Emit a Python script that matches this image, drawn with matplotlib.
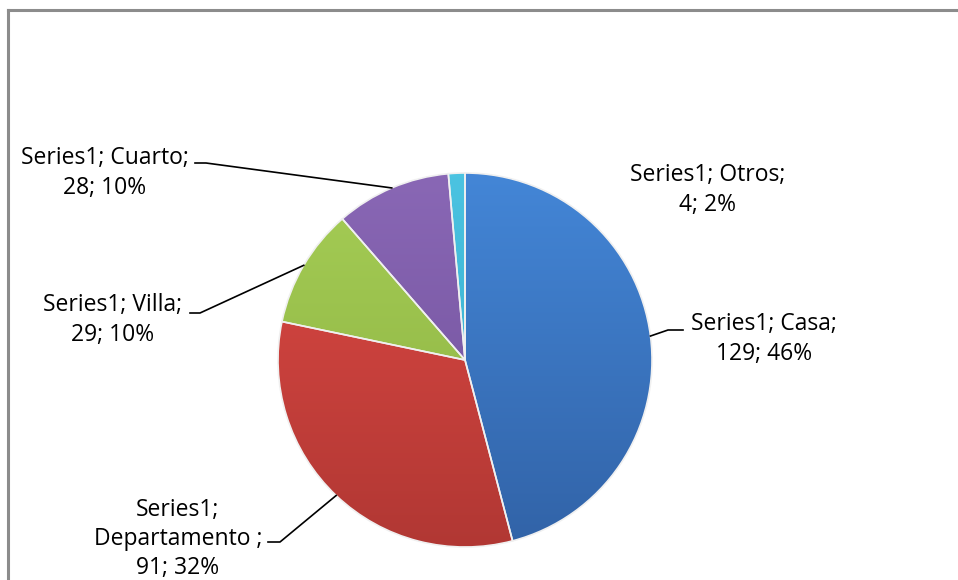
import numpy as np
import matplotlib.pyplot as plt
from matplotlib.colors import to_rgb
from matplotlib.lines import Line2D

# datos del grafico
categorias = ["Casa", "Departamento ", "Villa", "Cuarto", "Otros"]
valores = [129, 91, 29, 28, 4]
porcentajes = ["46%", "32%", "10%", "10%", "2%"]
serie = "Series1"

# colores: (arriba, abajo) para el degradado
colores = [("#4487D8", "#3162A6"),
           ("#E04A45", "#B03733"),
           ("#A6CE56", "#8AAF40"),
           ("#8A68B6", "#6E4E98"),
           ("#4CC4E2", "#2EA6C6")]

W, H = 958, 580
fig = plt.figure(figsize=(W / 100, H / 100), dpi=100)
ax = fig.add_axes([0, 0, 1, 1])

cx, cy, r = 465, H - 360, 187
explode = [0.027, 0, 0, 0, 0]

wedges, _ = ax.pie(valores, startangle=90, counterclock=False, radius=r,
                   center=(cx, cy), explode=explode, frame=True,
                   wedgeprops=dict(linewidth=1.2, edgecolor="#f0f0f0"))
ax.set_xlim(0, W)
ax.set_ylim(0, H)
ax.set_aspect("equal")
ax.axis("off")

# degradado vertical dentro de cada porcion
for w, (c1, c2) in zip(wedges, colores):
    a, b = np.array(to_rgb(c1)), np.array(to_rgb(c2))
    t = np.linspace(0, 1, 256)[:, None]
    img = (a * (1 - t) + b * t)[:, None, :]
    img = np.repeat(img, 2, axis=1)
    im = ax.imshow(img, extent=(cx - r - 10, cx + r + 10, cy - r - 10, cy + r + 10),
                   origin="upper", aspect="auto", zorder=w.get_zorder() + 0.1)
    im.set_clip_path(w)
    w.set_facecolor("none")
    w.set_zorder(w.get_zorder() + 0.2)

# etiquetas: centro del texto en pixeles
etiquetas_pos = [(764, 339), (178, 539), (113, 320), (105, 173), (708, 190)]
textos = [f"{serie};\n{c};\n{v}; {p}" if c.startswith("Dep") else f"{serie}; {c};\n{v}; {p}"
          for c, v, p in zip(categorias, valores, porcentajes)]
# inicio de la linea guia (junto al texto)
guia = [(668, 330, 683), (280, 542, 268), (200, 313, 190), (206, 163, 195), None]

for i, w in enumerate(wedges):
    x, y = etiquetas_pos[i]
    ax.text(x, H - y, textos[i], ha="center", va="center", fontsize=16.5,
            family=["Open Sans", "DejaVu Sans"], color="#000000", linespacing=1.28)
    if guia[i] is None:
        continue
    ang = np.deg2rad((w.theta1 + w.theta2) / 2)
    wx, wy = w.center
    px, py = wx + r * np.cos(ang), wy + r * np.sin(ang)
    gx, gy, gx2 = guia[i]
    ax.add_line(Line2D([px, gx, gx2], [py, H - gy, H - gy], color="black", lw=1.2, zorder=5))

# borde del grafico
fig.add_artist(Line2D([7.5 / W, 7.5 / W], [0, 1 - 10 / H], color="#8c8c8c", lw=2.2))
fig.add_artist(Line2D([7.5 / W, 1], [1 - 10 / H, 1 - 10 / H], color="#8c8c8c", lw=2.2))

fig.savefig("out.png", dpi=100, facecolor="white")
